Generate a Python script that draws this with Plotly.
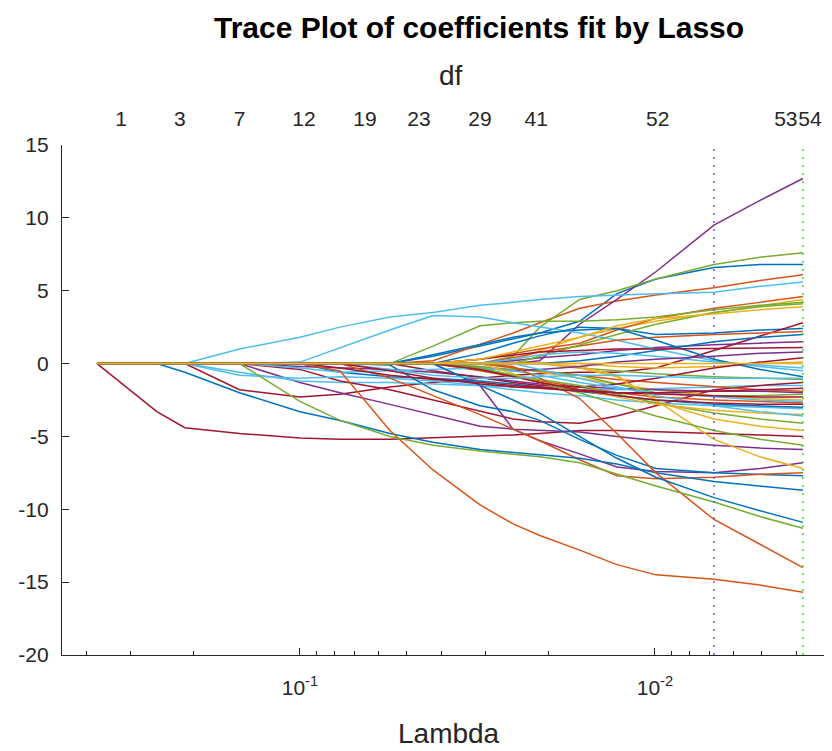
import math
import plotly.graph_objects as go

# ---- data -------------------------------------------------------------
LAMBDA = [0.373, 0.301, 0.253, 0.211, 0.148, 0.100, 0.0771, 0.0558, 0.0422,
          0.0311, 0.0251, 0.0211, 0.0163, 0.0128, 0.00994, 0.00682, 0.00506, 0.00383]

blue_paths = [
    [0, 0, 0, 0, 0, 0, 0, 0, 0.5, 1.2, 1.7, 2.1, 2.9, 4.8, 5.8, 6.6, 6.8, 6.8],
    [0, 0, 0, 0, 0, 0, 0, 0, 0.6, 1.3, 1.8, 2.1, 2.3, 2.4, 2.0, 2.1, 2.3, 2.4],
    [0, 0, 0, 0, 0, 0, 0, 0, 0, 0, 0, 0, 0.2, 0.5, 0.9, 1.5, 1.8, 2.0],
    [0, 0, 0, 0, 0, 0, 0, 0, 0, 0.7, 1.4, 1.9, 2.5, 2.4, 1.6, 0.3, -0.4, -0.9],
    [0, 0, 0, 0, 0, 0, -0.6, -0.9, -1.0, -1.2, -1.4, -1.6, -1.9, -2.2, -2.5, -2.8, -2.9, -3.0],
    [0, 0, 0, 0, 0, 0, 0, -0.1, -1.8, -2.9, -3.3, -3.9, -5.2, -6.3, -7.2, -7.5, -7.6, -7.7],
    [0, 0, 0, -0.6, -2.0, -3.3, -3.9, -4.8, -5.4, -5.9, -6.1, -6.3, -6.5, -6.9, -7.5, -8.1, -8.4, -8.7],
    [0, 0, 0, 0, 0, 0, 0, 0, 0, -1.5, -2.5, -3.4, -5.0, -6.5, -7.8, -9.2, -10.1, -10.9],
]
orange_paths = [
    [0, 0, 0, 0, 0, 0, 0, 0, 0.2, 1.3, 2.1, 2.8, 3.8, 4.3, 4.7, 5.2, 5.7, 6.1],
    [0, 0, 0, 0, 0, 0, 0, 0, 0, 0.3, 0.7, 1.0, 1.4, 2.3, 3.1, 3.8, 4.2, 4.6],
    [0, 0, 0, 0, 0, 0, 0, 0, 0, 0, 0.4, 0.8, 1.2, 1.6, 1.8, 2.0, 2.1, 2.2],
    [0, 0, 0, 0, 0, 0, 0, 0, 0, 0, -0.3, -0.5, -0.8, -1.1, -1.3, -1.6, -1.8, -1.9],
    [0, 0, 0, 0, 0, 0, 0, 0, 0, -0.5, -0.9, -1.2, -1.6, -2.0, -2.3, -2.5, -2.6, -2.7],
    [0, 0, 0, 0, 0, 0, 0, -1.0, -2.2, -3.5, -4.5, -5.3, -6.6, -7.7, -7.9, -7.8, -7.6, -7.5],
    [0, 0, 0, 0, 0, 0, 0, 0, 0, 0, -0.2, -1.0, -2.4, -4.8, -7.5, -10.7, -12.4, -14.0],
    [0, 0, 0, 0, 0, 0, -0.5, -4.6, -7.3, -9.7, -11.0, -11.8, -12.8, -13.8, -14.5, -14.8, -15.2, -15.7],
]
purple_paths = [
    [0, 0, 0, 0, 0, 0, 0, 0, 0, 0, 0, 0.2, 2.7, 4.4, 6.3, 9.5, 11.2, 12.7],
    [0, 0, 0, 0, 0, 0, 0, 0, 0, 0, 0.2, 0.4, 0.6, 0.9, 1.1, 1.3, 1.4, 1.5],
    [0, 0, 0, 0, 0, -1.3, -2.0, -2.8, -3.5, -4.3, -4.5, -4.6, -4.7, -5.0, -5.3, -5.6, -5.8, -5.9],
    [0, 0, 0, 0, 0, 0, 0, 0, 0, -1.5, -4.5, -5.3, -6.2, -7.1, -7.4, -7.5, -7.2, -6.8],
    [0, 0, 0, 0, 0, -0.2, -0.3, -0.4, -0.6, -0.9, -1.2, -1.4, -1.6, -1.7, -1.8, -1.9, -1.9, -2.0],
    [0, 0, 0, 0, 0, 0, 0, 0, 0, -0.3, -0.5, -0.4, -0.2, 0.1, 0.3, 0.5, 0.7, 0.8],
]
green_paths = [
    [0, 0, 0, 0, 0, 0, 0, 0, 0, 0, 0.5, 2.5, 4.4, 5.0, 5.8, 6.8, 7.3, 7.6],
    [0, 0, 0, 0, 0, 0, 0, 0, 1.2, 2.6, 2.8, 2.9, 2.9, 3.0, 3.2, 3.7, 4.0, 4.2],
    [0, 0, 0, 0, 0, 0, 0, 0, 0, 0, 0, 0.5, 1.3, 2.0, 2.7, 3.5, 3.9, 4.1],
    [0, 0, 0, 0, 0, 0, 0, 0, 0, 0, 0, 0, -0.3, -0.5, -0.7, -0.9, -1.0, -1.1],
    [0, 0, 0, 0, 0, 0, 0, 0, 0, -0.2, -0.4, -0.5, -0.8, -1.4, -2.0, -2.2, -2.2, -2.1],
    [0, 0, 0, 0, 0, 0, 0, 0, 0, -0.4, -0.8, -1.1, -1.5, -2.1, -2.7, -3.4, -3.8, -4.1],
    [0, 0, 0, 0, 0, 0, 0, 0, 0, -0.3, -0.8, -1.3, -2.0, -2.8, -3.6, -4.6, -5.2, -5.6],
    [0, 0, 0, 0, 0, -2.6, -3.9, -5.0, -5.6, -6.0, -6.2, -6.4, -6.8, -7.6, -8.4, -9.5, -10.5, -11.3],
]
lightblue_paths = [
    [0, 0, 0, 0, 1.0, 1.8, 2.5, 3.2, 3.5, 4.0, 4.2, 4.4, 4.6, 4.7, 4.8, 4.9, 5.3, 5.6],
    [0, 0, 0, 0, 0, 0.1, 1.1, 2.3, 3.3, 3.2, 2.8, 2.5, 2.1, 1.6, 1.0, 0.2, -0.2, -0.5],
    [0, 0, 0, 0, -0.6, -1.2, -1.3, -1.3, -1.4, -1.5, -1.6, -1.7, -1.8, -1.8, -1.7, -1.6, -1.5, -1.5],
    [0, 0, 0, 0, -0.8, -1.0, -0.9, -1.0, -1.2, -1.5, -1.8, -2.0, -2.2, -2.5, -2.7, -2.9, -3.0, -3.1],
    [0, 0, 0, 0, 0, 0, 0, 0, 0, 0, 0.3, 0.6, 0.8, 0.7, 0.5, 0.1, -0.1, -0.3],
    [0, 0, 0, 0, 0, -0.3, -0.6, -0.5, -0.4, -0.3, -0.5, -0.8, -1.3, -1.7, -2.0, -2.3, -2.5, -2.6],
    [0, 0, 0, 0, 0, 0, 0, 0, 0, 0, 0, -0.4, -1.0, -1.6, -2.2, -2.9, -3.3, -3.6],
    [0, 0, 0, 0, 0, 0, 0, -0.4, -0.8, -1.0, -1.0, -0.9, -0.8, -0.8, -0.9, -1.0, -1.0, -1.0],
]
darkred_paths = [
    [0, -1.8, -3.3, -4.4, -4.8, -5.1, -5.2, -5.2, -5.1, -5.0, -4.9, -4.8, -4.6, -4.6, -4.7, -4.8, -4.9, -5.0],
    [0, 0, 0, 0, -1.8, -2.3, -2.1, -1.6, -1.3, -1.0, -0.8, -0.7, -0.6, -0.6, -0.3, 0.9, 1.9, 2.8],
    [0, 0, 0, 0, 0, -0.4, -1.2, -1.8, -2.5, -3.3, -3.8, -4.0, -4.1, -3.6, -2.9, -1.8, -1.5, -1.3],
    [0, 0, 0, 0, 0, 0, 0, 0, 0, 0.3, 0.6, 0.8, 0.9, 1.0, 1.0, 1.05, 1.1, 1.1],
    [0, 0, 0, 0, 0, 0, 0, 0, -0.5, -1.0, -1.3, -1.5, -1.6, -1.4, -1.0, -0.3, 0.1, 0.4],
    [0, 0, 0, 0, 0, 0, -0.3, -0.8, -1.1, -1.3, -1.5, -1.6, -1.8, -2.0, -2.1, -2.2, -2.3, -2.3],
    [0, 0, 0, 0, 0, 0, 0, 0, 0, -0.4, -0.9, -1.3, -1.8, -2.2, -2.5, -2.7, -2.8, -2.8],
    [0, 0, 0, 0, 0, 0, 0, -0.5, -1.0, -1.4, -1.6, -1.7, -1.9, -2.0, -2.0, -1.9, -1.8, -1.7],
]
yellow_paths = [
    [0, 0, 0, 0, 0, 0, 0, 0, 0, 0, 0.2, 0.9, 1.8, 2.4, 2.9, 3.5, 4.0, 4.4],
    [0, 0, 0, 0, 0, 0, 0, 0, 0, 0, 0, 0, 0, -0.2, -0.3, -0.2, 0.0, 0.1],
    [0, 0, 0, 0, 0, 0, 0, 0, 0, 0, -0.3, -0.6, -1.0, -1.4, -1.8, -2.2, -2.4, -2.5],
    [0, 0, 0, 0, 0, 0, 0, 0, 0, 0, 0, 0, -0.2, -0.8, -2.6, -3.8, -4.3, -4.6],
    [0, 0, 0, 0, 0, 0, 0, 0, 0, 0, 0, 0, -0.3, -0.9, -2.5, -5.2, -6.4, -7.2],
    [0, 0, 0, 0, 0, 0, 0, 0, 0, 0, -0.7, -1.3, -1.8, -2.3, -2.8, -3.2, -3.4, -3.5],
    [0, 0, 0, 0, 0, 0, 0, 0, 0, 0.3, 0.8, 1.2, 1.8, 2.6, 3.1, 3.4, 3.7, 3.9],
    [0, 0, 0, 0, 0, 0, 0, 0, 0, 0, 0, 0, 0, 0, 0, 0, 0, 0],
]

DF_LAMBDA = [0.319, 0.218, 0.148, 0.0974, 0.0656, 0.0462, 0.0311, 0.0216, 0.00982, 0.00428, 0.00366]
DF_LABELS = ["1", "3", "7", "12", "19", "23", "29", "41", "52", "53", "54"]

LAMBDA_1SE = 0.00682
LAMBDA_MINMSE = 0.00383

X_TICKS = [0.1, 0.01]
X_TICK_TEXT = ["10<sup>-1</sup>", "10<sup>-2</sup>"]
X_MINOR = [0.4, 0.3, 0.2, 0.09, 0.08, 0.07, 0.06, 0.05, 0.04, 0.03, 0.02,
           0.009, 0.008, 0.007, 0.006, 0.005, 0.004]
Y_TICKS = [-20, -15, -10, -5, 0, 5, 10, 15]
Y_TICK_TEXT = ["-20", "-15", "-10", "-5", "0", "5", "10", "15"]

# ---- styling ----------------------------------------------------------
FONT = "Liberation Sans, Arial, Helvetica, sans-serif"
AX = "#262626"
groups = [
    ("#0072BD", blue_paths),
    ("#D95319", orange_paths),
    ("#7E2F8E", purple_paths),
    ("#77AC30", green_paths),
    ("#4DBEEE", lightblue_paths),
    ("#A2142F", darkred_paths),
    ("#EDB120", yellow_paths),
]

fig = go.Figure()
nmax = max(len(p) for _, p in groups)
for i in range(nmax):
    for color, paths in groups:
        if i < len(paths):
            fig.add_trace(go.Scatter(x=LAMBDA, y=paths[i], mode="lines",
                                     line=dict(color=color, width=1.5),
                                     showlegend=False, hoverinfo="skip"))

fig.add_trace(go.Scatter(x=[LAMBDA_1SE, LAMBDA_1SE], y=[Y_TICKS[0], Y_TICKS[-1]], mode="lines",
                         line=dict(color="rgba(70,70,255,0.85)", width=1.6, dash="2px,6px"),
                         showlegend=False, hoverinfo="skip"))
fig.add_trace(go.Scatter(x=[LAMBDA_MINMSE, LAMBDA_MINMSE], y=[Y_TICKS[0], Y_TICKS[-1]], mode="lines",
                         line=dict(color="rgba(40,210,40,0.85)", width=1.6, dash="2px,6px"),
                         showlegend=False, hoverinfo="skip"))
# invisible trace to anchor the top (df) axis
fig.add_trace(go.Scatter(x=DF_LAMBDA, y=[0] * len(DF_LAMBDA), xaxis="x2", mode="markers",
                         marker=dict(opacity=0), showlegend=False, hoverinfo="skip"))

xr = [math.log10(0.468), math.log10(0.003172)]

# the page body adds an 8px offset; size the figure so the plot box lands in place
fig.update_layout(
    width=824, height=743,
    margin=dict(l=54, r=0, t=137, b=96),
    paper_bgcolor="white", plot_bgcolor="white",
    font=dict(family=FONT, color=AX, size=21),
    xaxis=dict(type="log", range=xr, tickvals=X_TICKS, ticktext=X_TICK_TEXT, tickangle=0,
               ticks="inside", ticklen=7, tickwidth=1, tickcolor=AX, automargin=False,
               showline=True, linecolor=AX, linewidth=1.2, showgrid=False, zeroline=False,
               ticklabelstandoff=14,
               minor=dict(tickvals=X_MINOR, ticks="inside", ticklen=4, tickcolor=AX, showgrid=False),
               tickfont=dict(size=21, color=AX)),
    xaxis2=dict(type="log", range=xr, overlaying="x", side="top", anchor="y",
                tickvals=DF_LAMBDA, ticktext=DF_LABELS, ticks="", showline=False, tickangle=0,
                showgrid=False, zeroline=False, ticklabelstandoff=14, automargin=False,
                tickfont=dict(size=21, color=AX)),
    yaxis=dict(range=[-20, 15], tickvals=Y_TICKS, ticktext=Y_TICK_TEXT, ticks="inside",
               ticklen=7, tickcolor=AX, automargin=False,
               showline=True, linecolor=AX, linewidth=1.2, showgrid=False, zeroline=False,
               ticklabelstandoff=8, tickfont=dict(size=21, color=AX)),
    annotations=[
        dict(text="<b>Trace Plot of coefficients fit by Lasso</b>", xref="paper", yref="paper",
             x=(479 - 62) / 770, y=(655 - 28) / 510, xanchor="center", yanchor="middle",
             showarrow=False, font=dict(size=30, color="black", family=FONT)),
        dict(text="df", xref="paper", yref="paper",
             x=(451 - 62) / 770, y=(655 - 75) / 510, xanchor="center", yanchor="middle",
             showarrow=False, font=dict(size=28, color=AX, family=FONT)),
        dict(text="Lambda", xref="paper", yref="paper",
             x=(449 - 62) / 770, y=(655 - 733) / 510, xanchor="center", yanchor="middle",
             showarrow=False, font=dict(size=28, color=AX, family=FONT)),
    ],
)

fig.write_html("out.html")
